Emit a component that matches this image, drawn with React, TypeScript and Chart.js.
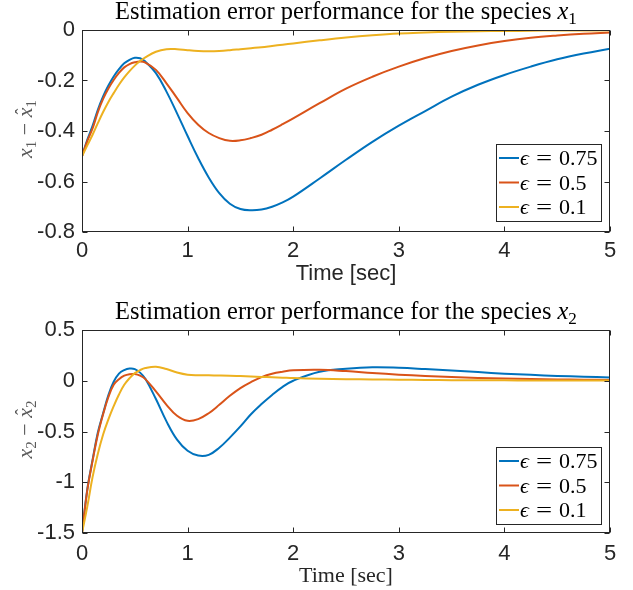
import React, { useEffect, useRef } from "react";
import { Chart, registerables } from "chart.js";
Chart.register(...registerables);

// ---- data ----
const time = [0, 0.05, 0.1, 0.15, 0.2, 0.25, 0.3, 0.35, 0.4, 0.45, 0.5, 0.55, 0.6,
  0.7, 0.8, 0.9, 1.0, 1.1, 1.2, 1.3, 1.4, 1.5, 1.6, 1.7, 1.8, 1.9, 2.0,
  2.25, 2.5, 2.75, 3.0, 3.25, 3.5, 3.75, 4.0, 4.25, 4.5, 4.75, 5.0];

// species x1 estimation error
const x1_eps075 = [-0.5, -0.435, -0.38, -0.316, -0.263, -0.22, -0.184, -0.155, -0.132, -0.118, -0.11, -0.112, -0.125,
  -0.171, -0.244, -0.33, -0.42, -0.507, -0.584, -0.646, -0.688, -0.709, -0.714, -0.711, -0.7, -0.683, -0.66,
  -0.588, -0.514, -0.443, -0.379, -0.321, -0.264, -0.217, -0.178, -0.145, -0.116, -0.093, -0.074];
const x1_eps05 = [-0.5, -0.44, -0.39, -0.325, -0.273, -0.232, -0.198, -0.17, -0.148, -0.135, -0.128, -0.125, -0.129,
  -0.158, -0.211, -0.27, -0.329, -0.375, -0.408, -0.428, -0.439, -0.437, -0.428, -0.415, -0.395, -0.373, -0.35,
  -0.29, -0.232, -0.185, -0.145, -0.111, -0.083, -0.061, -0.044, -0.031, -0.022, -0.015, -0.01];
const x1_eps01 = [-0.5, -0.457, -0.415, -0.369, -0.325, -0.285, -0.25, -0.217, -0.188, -0.163, -0.141, -0.123, -0.108,
  -0.086, -0.076, -0.076, -0.08, -0.083, -0.084, -0.083, -0.08, -0.076, -0.072, -0.068, -0.063, -0.058, -0.053,
  -0.041, -0.03, -0.021, -0.014, -0.01, -0.007, -0.005, -0.004, -0.003, -0.002, -0.002, -0.001];

// species x2 estimation error
const x2_eps075 = [-1.5, -1.07, -0.78, -0.51, -0.32, -0.14, -0.01, 0.07, 0.105, 0.12, 0.115, 0.08, 0.02,
  -0.18, -0.4, -0.58, -0.69, -0.737, -0.73, -0.66, -0.56, -0.45, -0.33, -0.23, -0.14, -0.06, 0.0,
  0.088, 0.118, 0.133, 0.128, 0.115, 0.1, 0.085, 0.07, 0.058, 0.048, 0.04, 0.033];
const x2_eps05 = [-1.5, -1.08, -0.79, -0.53, -0.33, -0.16, -0.04, 0.015, 0.05, 0.065, 0.066, 0.05, 0.016,
  -0.105, -0.237, -0.345, -0.395, -0.378, -0.32, -0.237, -0.148, -0.072, -0.013, 0.036, 0.069, 0.089, 0.103,
  0.108, 0.095, 0.077, 0.06, 0.047, 0.036, 0.028, 0.022, 0.017, 0.013, 0.01, 0.008];
const x2_eps01 = [-1.5, -1.24, -0.95, -0.72, -0.53, -0.38, -0.25, -0.135, -0.04, 0.025, 0.075, 0.105, 0.125,
  0.138, 0.115, 0.082, 0.06, 0.054, 0.053, 0.052, 0.05, 0.046, 0.042, 0.038, 0.034, 0.03, 0.026,
  0.02, 0.016, 0.013, 0.01, 0.008, 0.006, 0.005, 0.004, 0.003, 0.003, 0.002, 0.002];

const epsLabels = ["0.75", "0.5", "0.1"];
const xTicks = [0, 1, 2, 3, 4, 5];
const y1Ticks = [-0.8, -0.6, -0.4, -0.2, 0];
const y2Ticks = [-1.5, -1, -0.5, 0, 0.5];
const colors = ["#0072BD", "#D95319", "#EDB120"];

const SERIF = "'Liberation Serif', 'Times New Roman', serif";
const SANS = "'Liberation Sans', Arial, Helvetica, sans-serif";
const AX = "#262626";

type Cfg = {
  series: number[][];
  yTicks: number[];
  sub: string;
  padTop: number;
  xAxisH: number;
  xTickPad: number;
  titleY: number;
  xTitleY: number;
  xTitleSerif: boolean;
  legendTop: number;
};

type Run = { t: string; font: string; dy?: number };

function drawRuns(ctx: CanvasRenderingContext2D, runs: Run[], cx: number, cy: number) {
  let total = 0;
  const widths = runs.map((r) => {
    ctx.font = r.font;
    const w = ctx.measureText(r.t).width;
    total += w;
    return w;
  });
  let x = cx - total / 2;
  ctx.textBaseline = "alphabetic";
  ctx.textAlign = "left";
  runs.forEach((r, i) => {
    ctx.font = r.font;
    ctx.fillText(r.t, x, cy + (r.dy || 0));
    x += widths[i];
  });
  return { start: cx - total / 2, widths };
}

function makePlugin(c: Cfg) {
  return {
    id: "matlabAxes",
    afterDatasetsDraw(chart: any) {
      const ctx: CanvasRenderingContext2D = chart.ctx;
      const a = chart.chartArea;
      const xs = chart.scales.x;
      const ys = chart.scales.y;
      ctx.save();
      // box
      ctx.strokeStyle = AX;
      ctx.lineWidth = 1;
      const L = Math.round(a.left) + 0.5, R = Math.round(a.right) - 0.5;
      const T = Math.round(a.top) + 0.5, B = Math.round(a.bottom) - 0.5;
      ctx.strokeRect(L, T, R - L, B - T);
      // inward ticks
      const tl = 5;
      ctx.beginPath();
      xTicks.forEach((v) => {
        const px = Math.round(xs.getPixelForValue(v)) + 0.5;
        ctx.moveTo(px, B); ctx.lineTo(px, B - tl);
        ctx.moveTo(px, T); ctx.lineTo(px, T + tl);
      });
      c.yTicks.forEach((v) => {
        const py = Math.round(ys.getPixelForValue(v)) + 0.5;
        ctx.moveTo(L, py); ctx.lineTo(L + tl, py);
        ctx.moveTo(R, py); ctx.lineTo(R - tl, py);
      });
      ctx.stroke();

      const cx = (a.left + a.right) / 2;
      // title
      ctx.fillStyle = "#000";
      const base = "Estimation error performance for the species ";
      let size = 22;
      ctx.font = `${size}px ${SERIF}`;
      const w0 = ctx.measureText(base).width;
      ctx.font = `italic ${size}px ${SERIF}`;
      const w1 = ctx.measureText("x").width;
      ctx.font = `${size * 0.7}px ${SERIF}`;
      const w2 = ctx.measureText(c.sub).width;
      size = size * 462 / (w0 + w1 + w2);
      drawRuns(ctx, [
        { t: base, font: `${size}px ${SERIF}` },
        { t: "x", font: `italic ${size}px ${SERIF}` },
        { t: c.sub, font: `${size * 0.7}px ${SERIF}`, dy: size * 0.2 },
      ], cx, c.titleY);

      // x axis title
      ctx.fillStyle = AX;
      ctx.font = c.xTitleSerif ? `22px ${SERIF}` : `22px ${SANS}`;
      ctx.textAlign = "center";
      ctx.textBaseline = "middle";
      ctx.fillText("Time [sec]", cx, c.xTitleY);

      // y axis label (rotated)
      ctx.save();
      ctx.translate(25, (a.top + a.bottom) / 2 - 2);
      ctx.rotate(-Math.PI / 2);
      ctx.fillStyle = "#5a5a5a";
      const it = `italic 22px ${SERIF}`;
      const sb = `15px ${SERIF}`;
      const res = drawRuns(ctx, [
        { t: "x", font: it },
        { t: c.sub, font: sb, dy: 4 },
        { t: " \u2212 ", font: `22px ${SERIF}` },
        { t: "x", font: it },
        { t: c.sub, font: sb, dy: 4 },
      ], 0, 7);
      // hat over the second x
      let hx = res.start;
      for (let i = 0; i < 3; i++) hx += res.widths[i];
      ctx.font = `18px ${SERIF}`;
      ctx.textAlign = "center";
      ctx.textBaseline = "alphabetic";
      ctx.fillText("\u02C6", hx + res.widths[3] / 2 + 1, 3);
      ctx.restore();

      // legend
      const bl = 496.5, br = 601.5, bt = c.legendTop + 0.5, bh = 77;
      ctx.fillStyle = "#fff";
      ctx.fillRect(bl, bt, br - bl, bh);
      ctx.strokeStyle = AX;
      ctx.lineWidth = 1;
      ctx.strokeRect(bl, bt, br - bl, bh);
      epsLabels.forEach((lab, i) => {
        const ry = c.legendTop + 14 + i * 24.5;
        ctx.strokeStyle = colors[i];
        ctx.lineWidth = 2;
        ctx.beginPath();
        ctx.moveTo(499, ry); ctx.lineTo(519, ry);
        ctx.stroke();
        ctx.fillStyle = "#000";
        ctx.textAlign = "left";
        ctx.textBaseline = "alphabetic";
        ctx.font = `italic 22px ${SERIF}`;
        ctx.fillText("\u03F5", 520, ry + 7);
        ctx.font = `22px ${SERIF}`;
        ctx.save();
        ctx.translate(536, ry + 7);
        ctx.scale(1.3, 1);
        ctx.fillText("=", 0, 0);
        ctx.restore();
        ctx.fillText(lab, 559, ry + 7);
      });
      ctx.restore();
    },
  };
}

function makeConfig(c: Cfg): any {
  const names = epsLabels.map((l) => "\u03F5 = " + l);
  return {
    type: "line",
    data: {
      datasets: c.series.map((s, i) => ({
        label: names[i],
        data: time.map((t, k) => ({ x: t, y: s[k] })),
        borderColor: colors[i],
        backgroundColor: colors[i],
        borderWidth: 2,
        pointRadius: 0,
        fill: false,
        tension: 0.4,
        order: 3 - i,
      })),
    },
    options: {
      responsive: false,
      animation: false,
      devicePixelRatio: 1,
      layout: { padding: { left: 0, right: 23, top: c.padTop, bottom: 0 } },
      plugins: { legend: { display: false }, title: { display: false }, tooltip: { enabled: false } },
      scales: {
        x: {
          type: "linear",
          min: 0,
          max: 5,
          grid: { display: false, drawTicks: false },
          border: { display: false },
          afterBuildTicks: (s: any) => { s.ticks = xTicks.map((v) => ({ value: v })); },
          afterFit: (s: any) => { s.height = c.xAxisH; },
          ticks: {
            color: AX,
            padding: c.xTickPad,
            maxRotation: 0,
            font: { family: SANS, size: 22, lineHeight: 1.2 },
            callback: (v: number) => String(v),
          },
        },
        y: {
          type: "linear",
          min: c.yTicks[0],
          max: c.yTicks[c.yTicks.length - 1],
          grid: { display: false, drawTicks: false },
          border: { display: false },
          afterBuildTicks: (s: any) => { s.ticks = c.yTicks.map((v) => ({ value: v })); },
          afterFit: (s: any) => { s.width = 82; },
          ticks: {
            color: AX,
            padding: 7,
            font: { family: SANS, size: 22, lineHeight: 1.2 },
            callback: (v: number) => String(v),
          },
        },
      },
    },
    plugins: [makePlugin(c)],
  };
}

function Panel({ cfg, top }: { cfg: Cfg; top: number }) {
  const ref = useRef<HTMLCanvasElement | null>(null);
  useEffect(() => {
    if (!ref.current) return;
    const chart = new Chart(ref.current, makeConfig(cfg));
    return () => chart.destroy();
  }, []);
  return (
    <div style={{ position: "absolute", left: 0, top, width: 633, height: 295 }}>
      <canvas ref={ref} width={633} height={295} style={{ width: 633, height: 295, display: "block" }} />
    </div>
  );
}

const cfg1: Cfg = {
  series: [x1_eps075, x1_eps05, x1_eps01],
  yTicks: y1Ticks,
  sub: "1",
  padTop: 30,
  xAxisH: 63,
  xTickPad: 6,
  titleY: 19,
  xTitleY: 274,
  xTitleSerif: false,
  legendTop: 144,
};

const cfg2: Cfg = {
  series: [x2_eps075, x2_eps05, x2_eps01],
  yTicks: y2Ticks,
  sub: "2",
  padTop: 35,
  xAxisH: 57,
  xTickPad: 8,
  titleY: 24,
  xTitleY: 281,
  xTitleSerif: true,
  legendTop: 152,
};

export default function App() {
  return (
    <div style={{ position: "absolute", left: 0, top: 0, width: 633, height: 590, background: "#fff" }}>
      <Panel cfg={cfg1} top={0} />
      <Panel cfg={cfg2} top={295} />
    </div>
  );
}
